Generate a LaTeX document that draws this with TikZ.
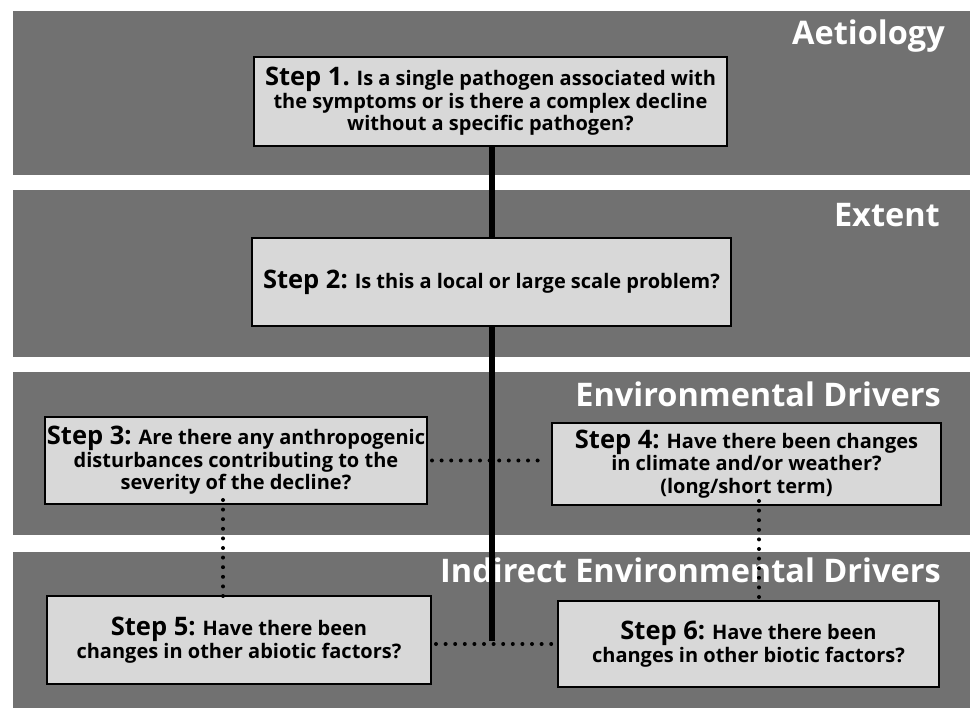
\documentclass[tikz,border=0pt]{standalone}
\usepackage{fontspec}
\setmainfont{Open Sans}
\definecolor{bandgray}{HTML}{717171}
\definecolor{boxgray}{HTML}{D8D8D8}
\begin{document}
\begin{tikzpicture}[x=1pt,y=-1pt,
  band/.style={fill=bandgray,draw=none},
  stepbox/.style={draw=black,line width=2pt,fill=boxgray,align=center,inner sep=0pt,font=\bfseries\fontsize{20}{22.5}\selectfont},
  title/.style={anchor=base east,text=white,inner sep=0pt,font=\bfseries\fontsize{32.5}{36}\selectfont},
  spine/.style={line width=6pt,black},
  dotline/.style={line width=4pt,line cap=round,dash pattern=on 0pt off 9.6pt,black}]
\newcommand{\stp}[1]{{\fontsize{25.5}{22.5}\selectfont #1}}
\useasboundingbox (0,0) rectangle (970,708);
\fill[white] (0,0) rectangle (970,708);
% bands
\path[band] (13,11) rectangle (970,175);
\path[band] (13,190) rectangle (970,357);
\path[band] (13,372) rectangle (970,535);
\path[band] (13,552) rectangle (970,708);
% titles
\node[title] (t1) at (945,45) {Aetiology};
\node[title] (t2) at (940,227) {Extent};
\node[title] (t3) at (941,407) {Environmental Drivers};
\node[title] (t4) at (941,583) {Indirect Environmental Drivers};
% junction
\coordinate (j) at (492,644);
% boxes
\node[stepbox,minimum width=473pt,minimum height=89pt] (b1) at (490.5,101.5)
  {\stp{Step 1.} Is a single pathogen associated with\\the symptoms or is there a complex decline\\without a specific pathogen?};
\node[stepbox,minimum width=479pt,minimum height=88pt] (b2) at (491.5,282)
  {\stp{Step 2:} Is this a local or large scale problem?};
\node[stepbox,minimum width=382pt,minimum height=87pt] (b3) at (236,460.5)
  {\stp{Step 3:} Are there any anthropogenic\\disturbances contributing to the\\severity of the decline?};
\node[stepbox,minimum width=389pt,minimum height=82pt] (b4) at (746.5,464)
  {\stp{Step 4:} Have there been changes\\in climate and/or weather?\\(long/short term)};
\node[stepbox,minimum width=384pt,minimum height=88pt] (b5) at (239,640)
  {\stp{Step 5:} Have there been\\changes in other abiotic factors?};
\node[stepbox,minimum width=381pt,minimum height=86pt] (b6) at (748.5,644)
  {\stp{Step 6:} Have there been\\changes in other biotic factors?};
% connectors
\draw[spine] (b1.south -| j) -- (b2.north -| j);
\draw[spine] (b2.south -| j) -- ([yshift=3pt]j);
\draw[dotline] ([xshift=4pt]b3.east) -- ([xshift=-4pt]b3.east -| b4.west);
\draw[dotline] ([xshift=4pt]b5.east |- j) -- ([xshift=-4pt]b6.west |- j);
\draw[dotline] ([xshift=-13pt,yshift=5pt]b3.south) -- ([xshift=-13pt,yshift=-5pt]b3.south |- b5.north);
\draw[dotline] ([xshift=12.5pt,yshift=5pt]b4.south) -- ([xshift=12.5pt,yshift=-5pt]b4.south |- b6.north);
\end{tikzpicture}
\end{document}
